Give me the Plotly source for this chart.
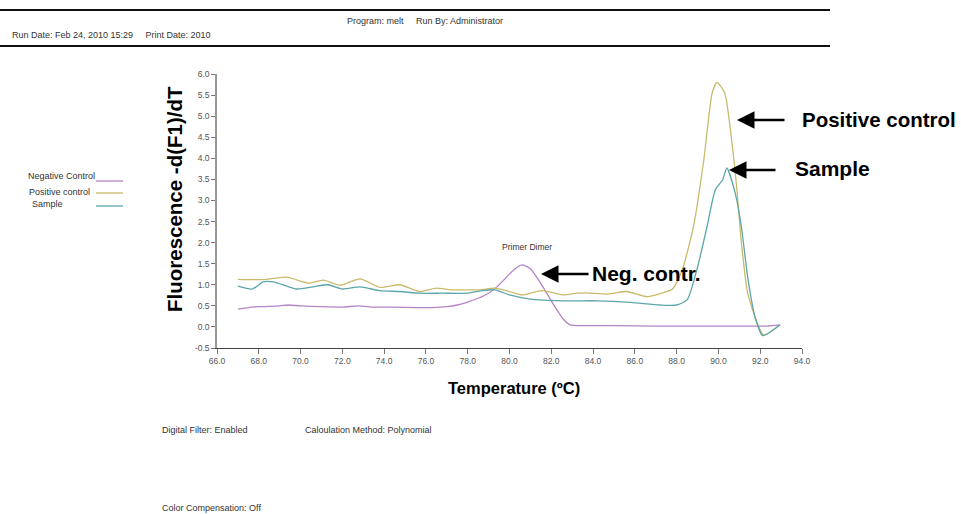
import plotly.graph_objects as go

# ---------------- data ----------------
neg_x = [67.0, 67.5, 68.0, 69.0, 69.4, 70.0, 71.0, 72.0, 72.8, 73.5, 74.5, 75.5, 76.3, 77.0, 77.5,
         78.0, 78.5, 79.0, 79.4, 79.8, 80.2, 80.6, 81.0, 81.3, 81.6, 82.0, 82.3, 82.6, 82.9, 83.5,
         85.0, 87.0, 89.0, 91.0, 92.3, 92.95]
neg_y = [0.42, 0.46, 0.48, 0.50, 0.52, 0.50, 0.48, 0.47, 0.50, 0.47, 0.47, 0.46, 0.46, 0.48, 0.52,
         0.59, 0.68, 0.80, 0.95, 1.15, 1.35, 1.47, 1.38, 1.18, 0.95, 0.62, 0.38, 0.17, 0.05, 0.03,
         0.03, 0.02, 0.02, 0.02, 0.02, 0.05]

pos_x = [67.0, 67.6, 68.4, 69.35, 70.1, 70.4, 71.1, 71.9, 72.85, 73.8, 74.75, 75.7, 76.5, 77.2, 78.0,
         78.6, 79.3, 80.0, 80.6, 81.55, 82.56, 83.2, 83.7, 84.7, 85.6, 86.6, 87.3, 87.8, 88.0, 88.3,
         88.8, 89.3, 89.7, 89.93, 90.3, 90.65, 90.9, 91.1, 91.4, 91.85, 92.15, 92.4, 92.95]
pos_y = [1.13, 1.12, 1.13, 1.18, 1.07, 1.04, 1.11, 0.99, 1.14, 0.94, 1.00, 0.84, 0.92, 0.88, 0.88,
         0.88, 0.92, 0.84, 0.76, 0.86, 0.76, 0.80, 0.81, 0.78, 0.84, 0.72, 0.80, 0.90, 1.05, 1.40,
         2.37, 3.96, 5.55, 5.80, 5.55, 4.36, 3.17, 1.99, 0.80, 0.10, -0.19, -0.15, 0.05]

smp_x = [67.0, 67.7, 68.2, 68.7, 69.8, 70.6, 71.3, 72.0, 72.85, 73.8, 74.75, 75.7, 76.8, 78.0, 78.7,
         79.3, 80.0, 81.0, 82.6, 84.2, 85.8, 87.2, 88.0, 88.5, 89.0, 89.45, 89.85, 90.2, 90.4, 90.8,
         91.1, 91.4, 91.75, 92.1, 92.3, 92.95]
smp_y = [0.97, 0.90, 1.07, 1.07, 0.90, 0.95, 1.00, 0.90, 0.95, 0.86, 0.84, 0.80, 0.80, 0.80, 0.86,
         0.88, 0.76, 0.66, 0.62, 0.62, 0.58, 0.52, 0.52, 0.64, 1.42, 2.37, 3.25, 3.49, 3.77, 3.18,
         2.37, 1.18, 0.24, -0.20, -0.18, 0.05]

series_names = ["Negative Control", "Positive control", "Sample"]
series_colors = ["#b584c6", "#c9ba6c", "#5ca6ab"]

x_ticks = [66, 68, 70, 72, 74, 76, 78, 80, 82, 84, 86, 88, 90, 92, 94]
y_ticks = [-0.5, 0.0, 0.5, 1.0, 1.5, 2.0, 2.5, 3.0, 3.5, 4.0, 4.5, 5.0, 5.5, 6.0]

# ---------------- layout helpers ----------------
W, H = 961, 514
L, R, T, B = 217, 802, 74, 348
FONT = "Liberation Sans, Arial, sans-serif"


def px(xp):
    return (xp - L) / (R - L)


def py(yp):
    return (B - yp) / (B - T)


fig = go.Figure()
for xs, ys, name, col in zip([neg_x, pos_x, smp_x], [neg_y, pos_y, smp_y], series_names, series_colors):
    fig.add_trace(go.Scatter(x=xs, y=ys, mode="lines", name=name,
                             line=dict(color=col, width=1.3, shape="spline", smoothing=0.6),
                             showlegend=False))

annotations = []
shapes = []


def text(xp, yp, s, size=8, bold=False, color="#333", anchor="left"):
    annotations.append(dict(xref="paper", yref="paper", x=px(xp), y=py(yp), text=f"<b>{s}</b>" if bold else s,
                            showarrow=False, xanchor=anchor, yanchor="middle", borderpad=0,
                            font=dict(family=FONT, size=size, color=color)))


# header
shapes.append(dict(type="line", xref="paper", yref="paper", x0=px(0), x1=px(830), y0=py(10), y1=py(10),
                   line=dict(color="#111", width=2)))
shapes.append(dict(type="line", xref="paper", yref="paper", x0=px(0), x1=px(830), y0=py(46), y1=py(46),
                   line=dict(color="#111", width=2)))
text(346, 21, "Program: melt&nbsp;&nbsp;&nbsp;&nbsp;&nbsp;Run By: Administrator", size=9)
text(11, 35, "Run Date: Feb 24, 2010 15:29&nbsp;&nbsp;&nbsp;&nbsp;&nbsp;Print Date: 2010", size=9)

# legend (text left, line right)
leg_rows = [(176, 181), (192, 193), (204, 206)]
leg_x = [27, 28, 31]
for (ty, ly), lx, name, col in zip(leg_rows, leg_x, series_names, series_colors):
    text(lx, ty, name, size=9)
    shapes.append(dict(type="line", xref="paper", yref="paper", x0=px(96), x1=px(123), y0=py(ly), y1=py(ly),
                       line=dict(color=col, width=1.3)))

# axis titles
annotations.append(dict(xref="paper", yref="paper", x=px(174), y=py(199), text="<b>Fluorescence -d(F1)/dT</b>",
                        textangle=-90, showarrow=False, xanchor="center", yanchor="middle",
                        font=dict(family=FONT, size=20.5, color="#000")))
text(514, 388, "Temperature (ºC)", size=16.5, bold=True, color="#000", anchor="center")

# in-plot labels
text(527, 247, "Primer Dimer", size=8.5, anchor="center")
text(591, 273, "Neg. contr.", size=21, bold=True, color="#000")
text(801, 119, "Positive control", size=20.5, bold=True, color="#000")
text(794, 168, "Sample", size=21, bold=True, color="#000")


def arrow(tip_x, tail_x, yp):
    annotations.append(dict(xref="paper", yref="paper", x=px(tip_x), y=py(yp), ax=tail_x - tip_x, ay=0,
                            axref="pixel", ayref="pixel", text="", showarrow=True, arrowhead=2,
                            arrowsize=1.4, arrowwidth=2.5, arrowcolor="#000", standoff=0))


arrow(541, 590, 274)
arrow(737, 786, 120)
arrow(729, 777, 170)

# footer
text(161, 430, "Digital Filter: Enabled", size=9)
text(304, 430, "Caloulation Method: Polynomial", size=9)
text(161, 508, "Color Compensation: Off", size=9)

fig.update_layout(
    width=W, height=H,
    margin=dict(l=L, r=W - R, t=T, b=H - B, pad=0),
    paper_bgcolor="white", plot_bgcolor="white",
    showlegend=False,
    annotations=annotations, shapes=shapes,
    font=dict(family=FONT),
)
fig.update_xaxes(range=[66, 94], tickvals=x_ticks, ticktext=[f"{v:.1f}" for v in x_ticks],
                 showgrid=False, zeroline=False, showline=True, linecolor="#444", linewidth=1.2,
                 ticks="outside", ticklen=5, tickcolor="#777", tickwidth=1,
                 tickfont=dict(family=FONT, size=8.5, color="#555"))
fig.update_yaxes(range=[-0.5, 6.0], tickvals=y_ticks, ticktext=[f"{v:.1f}" for v in y_ticks],
                 showgrid=False, zeroline=False, showline=True, linecolor="#999", linewidth=1.5,
                 ticks="outside", ticklen=4, tickcolor="#777", tickwidth=1,
                 tickfont=dict(family=FONT, size=8.5, color="#555"))

fig.write_html("out.html", config={"displayModeBar": False},
               post_script="document.body.style.margin='0';document.body.style.overflow='hidden';")
